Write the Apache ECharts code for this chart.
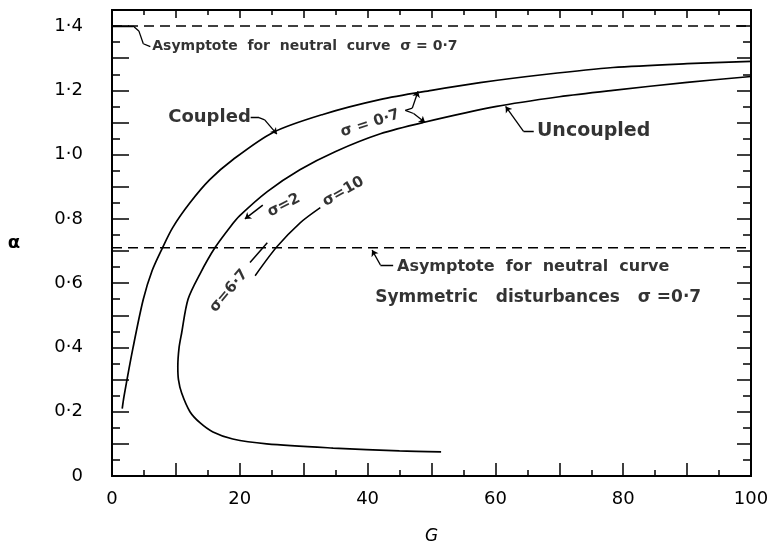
<!DOCTYPE html>
<html><head><meta charset="utf-8">
<script src="https://cdn.jsdelivr.net/npm/echarts@6/dist/echarts.min.js"></script>
<style>html,body{margin:0;padding:0;background:#fff}#c{width:774px;height:546px}</style>
</head><body><div id="c"></div>
<script>
// ---- data (G, alpha) ----
const coupled = [[1.6,0.21],[1.9,0.25],[3.3,0.40],[4.9,0.55],[6.3,0.64],[7.9,0.71],[9.5,0.773],[12.2,0.85],[15.3,0.922],[18.9,0.984],[25.2,1.069],[33,1.125],[41.9,1.171],[50,1.2],[57.6,1.224],[68,1.25],[78.4,1.271],[90,1.283],[100,1.29]];
const uncoupled = [[51.5,0.075],[45,0.078],[34.6,0.087],[24.2,0.10],[18.9,0.115],[15.8,0.137],[13.8,0.165],[12.2,0.20],[10.9,0.258],[10.4,0.30],[10.3,0.34],[10.5,0.40],[10.9,0.445],[11.9,0.55],[13.8,0.63],[16.1,0.71],[18.5,0.775],[20,0.81],[24.3,0.885],[29.4,0.953],[35,1.01],[42,1.065],[48.7,1.10],[60.2,1.15],[70,1.18],[78.4,1.20],[90,1.225],[100,1.243]];
const sigma10 = [[22.4,0.623],[25.8,0.713],[29.4,0.787],[32.6,0.835]];
const sigma67 = [[21.6,0.664],[24.3,0.726]];
const sigma2 = [[23.6,0.843],[20.8,0.8]];
const asymCoupled = [[0,1.4],[100,1.4]];
const asymSym = [[0,0.71],[100,0.71]];
const xTickLabels = [0,20,40,60,80,100];
const yTickLabels = ['0','0·2','0·4','0·6','0·8','1·0','1·2','1·4'];
// leader lines (segments without arrow) and arrowed tips
const leaderPlain = [
  [[0,1.4],[3.3,1.4]],[[3.3,1.4],[4.2,1.385]],[[4.2,1.385],[4.9,1.345]],[[4.9,1.345],[6.0,1.336]],
  [[21.7,1.115],[23.0,1.115]],[[23.0,1.115],[23.9,1.108]],
  [[66.0,1.072],[64.4,1.072]],
  [[44.0,0.657],[42.0,0.657]],
  [[45.9,1.138],[47.0,1.145]],[[45.9,1.138],[47.2,1.128]]
];
const leaderArrow = [
  [[23.9,1.108],[25.8,1.064]],
  [[64.4,1.072],[61.6,1.15]],
  [[42.0,0.657],[40.7,0.703]],
  [[47.0,1.145],[47.9,1.197]],
  [[47.2,1.128],[49.0,1.10]]
];
// text notes: [text, G, alpha, rotate, anchor, size]
const notes = [
  ['Asymptote  for  neutral  curve  σ = 0·7', 6.3, 1.336, 0, 'left', 14],
  ['Coupled', 8.8, 1.115, 0, 'left', 18],
  ['Uncoupled', 66.5, 1.072, 0, 'left', 19],
  ['Asymptote  for  neutral  curve', 44.6, 0.652, 0, 'left', 16],
  ['Symmetric   disturbances   σ =0·7', 41.2, 0.555, 0, 'left', 17],
  ['σ = 0·7', 40.4, 1.097, 18, 'center', 15],
  ['σ=2', 26.9, 0.842, 27, 'center', 15],
  ['σ=10', 36.2, 0.885, 30, 'center', 15],
  ['σ=6·7', 18.3, 0.576, 50, 'center', 15]
];

const FONT = 'DejaVu Sans';
const black = '#000';
function yLab(v){
  const k = Math.round(v*5);
  if (Math.abs(v*5-k) < 1e-6 && k>=0 && k<yTickLabels.length) return yTickLabels[k];
  return '';
}
function xLab(v){ return xTickLabels.indexOf(Math.round(v))>=0 && Math.abs(v-Math.round(v))<1e-6 ? String(Math.round(v)) : ''; }

const base = {type:'value', splitLine:{show:false}, axisLine:{show:true, onZero:false, lineStyle:{color:black,width:2}}};
const chart = echarts.init(document.getElementById('c'), null, {renderer:'canvas'});
const option = {
  animation:false,
  textStyle:{color:black},
  grid:{left:112, right:23, top:10, bottom:70, containLabel:false, outerBoundsMode:'none'},
  xAxis:[
    Object.assign({}, base, {position:'bottom', min:0, max:100, interval:10,
      axisTick:{inside:true, length:13, lineStyle:{color:black,width:1.5}},
      minorTick:{show:true, splitNumber:2, length:6, lineStyle:{color:black,width:1.5}},
      minorSplitLine:{show:false},
      axisLabel:{formatter:xLab, color:black, fontSize:18, fontFamily:FONT, margin:14},
      name:'G', nameLocation:'middle', nameGap:52,
      nameTextStyle:{fontStyle:'italic', fontSize:17, color:black, fontFamily:FONT}}),
    Object.assign({}, base, {position:'top', min:0, max:100, interval:10,
      axisTick:{inside:true, length:8, lineStyle:{color:black,width:1.5}},
      minorTick:{show:true, splitNumber:2, length:5, lineStyle:{color:black,width:1.5}},
      axisLabel:{show:false}})
  ],
  yAxis:[
    Object.assign({}, base, {position:'left', min:0, max:1.45, interval:0.05,
      axisTick:{inside:true, length:8, lineStyle:{color:black,width:1.5}},
      axisLabel:{formatter:yLab, color:black, fontSize:18, fontFamily:FONT, margin:29},
      name:'α', nameLocation:'middle', nameGap:92, nameRotate:0,
      nameTextStyle:{fontSize:18, fontWeight:'bold', color:black, fontFamily:FONT}}),
    Object.assign({}, base, {position:'left', min:0, max:1.45, interval:0.1,
      axisTick:{inside:true, length:17, lineStyle:{color:black,width:1.5}},
      axisLabel:{show:false}}),
    Object.assign({}, base, {position:'right', min:0, max:1.45, interval:0.05,
      axisTick:{inside:true, length:8, lineStyle:{color:black,width:1.5}},
      axisLabel:{show:false}}),
    Object.assign({}, base, {position:'right', min:0, max:1.45, interval:0.1,
      axisTick:{inside:true, length:14, lineStyle:{color:black,width:1.5}},
      axisLabel:{show:false}})
  ],
  series:[
    {type:'line', data:asymCoupled, showSymbol:false, lineStyle:{color:black,width:1.5,type:[10,6]}},
    {type:'line', data:asymSym, showSymbol:false, lineStyle:{color:black,width:1.5,type:[10,6]}},
    {type:'line', data:coupled, smooth:0.3, showSymbol:false, lineStyle:{color:black,width:1.7}},
    {type:'line', data:uncoupled, smooth:0.3, showSymbol:false, lineStyle:{color:black,width:1.7}},
    {type:'line', data:sigma10, smooth:0.3, showSymbol:false, lineStyle:{color:black,width:1.5}},
    {type:'line', data:sigma67, showSymbol:false, lineStyle:{color:black,width:1.5}},
    {type:'lines', coordinateSystem:'cartesian2d', symbol:['none','arrow'], symbolSize:6,
      data:[{coords:sigma2}], lineStyle:{color:black,width:1.5,opacity:1}},
    {type:'lines', coordinateSystem:'cartesian2d', data:leaderPlain.map(c=>({coords:c})),
      lineStyle:{color:black,width:1.3,opacity:1}},
    {type:'lines', coordinateSystem:'cartesian2d', symbol:['none','arrow'], symbolSize:6,
      data:leaderArrow.map(c=>({coords:c})), lineStyle:{color:black,width:1.3,opacity:1}},
    {type:'scatter', symbolSize:0, silent:true, itemStyle:{color:black},
      data:notes.map(n=>({value:[n[1],n[2]], name:n[0],
        label:{show:true, formatter:n[0], rotate:n[3],
          position: n[4]==='left' ? 'right' : 'inside', distance:0,
          align:n[4], verticalAlign:'middle', textBorderWidth:0,
          color:black, fontSize:n[5], fontWeight:'bold', fontFamily:FONT}}))}
  ]
};
chart.setOption(option);
</script></body></html>
